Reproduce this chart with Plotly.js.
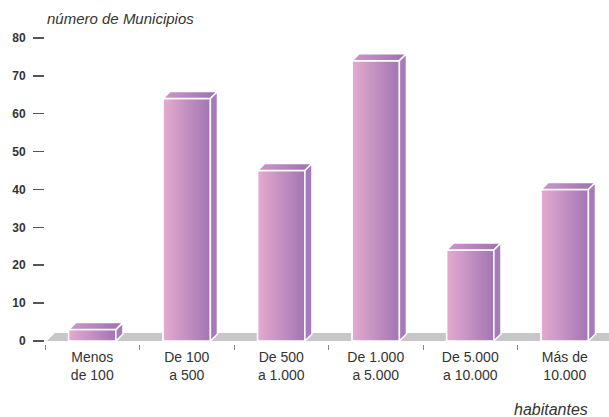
<!DOCTYPE html>
<html>
<head>
<meta charset="utf-8">
<script src="https://cdn.plot.ly/plotly-3.0.1.min.js"></script>
<style>html,body{margin:0;padding:0;background:#fff;}#chart{width:609px;height:417px;}</style>
</head>
<body>
<div id="chart"></div>
<script>
const categories = ['Menos<br>de 100', 'De 100<br>a 500', 'De 500<br>a 1.000', 'De 1.000<br>a 5.000', 'De 5.000<br>a 10.000', 'Más de<br>10.000'];
const municipios = [3, 64, 45, 74, 24, 40];
const yTicks = [0, 10, 20, 30, 40, 50, 60, 70, 80];
const yTitle = 'número de Municipios';
const xTitle = 'habitantes';

const positions = categories.map((c, i) => i);
const halfW = 0.25, dx = 0.075, dy = 1.85;
const edge = {color: '#ffffff', width: 1.5};

const traces = [{
  type: 'bar', x: positions, y: municipios, width: 0.5,
  marker: {color: '#c393c5', line: edge},
  hovertemplate: '%{y}<extra></extra>', showlegend: false
}];

municipios.forEach((v, i) => {
  const l = i - halfW, r = i + halfW;
  traces.push({
    type: 'scatter', mode: 'lines', fill: 'toself', hoverinfo: 'skip', showlegend: false,
    x: [l, l, r, r, l], y: [0, v, v, 0, 0], line: edge,
    fillgradient: {type: 'horizontal', start: l, stop: r, colorscale: [[0, '#e3abcf'], [1, '#a275b3']]}
  });
  traces.push({
    type: 'scatter', mode: 'lines', fill: 'toself', hoverinfo: 'skip', showlegend: false,
    x: [l, l + dx, r + dx, r, l], y: [v, v + dy, v + dy, v, v], line: edge,
    fillgradient: {type: 'horizontal', start: l, stop: r + dx, colorscale: [[0, '#cb97cb'], [1, '#9f70af']]}
  });
  traces.push({
    type: 'scatter', mode: 'lines', fill: 'toself', hoverinfo: 'skip', showlegend: false,
    x: [r, r + dx, r + dx, r, r], y: [0, dy, v + dy, v, 0], line: edge,
    fillcolor: '#a87ab8'
  });
});

const layout = {
  width: 609, height: 417,
  margin: {l: 45, r: 0, t: 30, b: 73},
  paper_bgcolor: '#ffffff', plot_bgcolor: '#ffffff',
  showlegend: false,
  xaxis: {
    range: [-0.5, 5.468], showgrid: false, zeroline: false, showline: false,
    tickmode: 'array', tickvals: positions, ticktext: categories, ticks: '',
    tickfont: {family: 'Liberation Sans, Arial, sans-serif', size: 14, color: '#333'},
    ticklabelstandoff: 3,
    minor: {tickmode: 'array', tickvals: [-0.5, 0.5, 1.5, 2.5, 3.5, 4.5], ticks: 'outside', ticklen: 5, tickcolor: '#888', tickwidth: 1, showgrid: false},
    fixedrange: true
  },
  yaxis: {
    range: [-0.8, 82.1], showgrid: false, zeroline: false, showline: false,
    tickmode: 'array', tickvals: yTicks, ticks: 'outside', ticklen: 11, tickwidth: 1.5, tickcolor: '#555',
    tickfont: {family: 'Liberation Sans, Arial, sans-serif', size: 12, color: '#333', weight: 'bold'},
    ticklabelstandoff: 5,
    fixedrange: true
  },
  shapes: [{
    type: 'path', xref: 'x', yref: 'y', layer: 'below',
    path: 'M -0.48,0 L -0.395,2.1 L 6,2.1 L 6,0 Z',
    fillcolor: '#c7c7c9', line: {width: 0}
  }],
  annotations: [
    {text: yTitle, xref: 'paper', yref: 'paper', x: 0, y: 1.038, xanchor: 'left', yanchor: 'middle', showarrow: false,
     font: {family: 'Liberation Sans, Arial, sans-serif', size: 15, color: '#333', style: 'italic'}},
    {text: xTitle, xref: 'paper', yref: 'paper', x: 0.966, y: -0.21, xanchor: 'right', yanchor: 'middle', showarrow: false,
     font: {family: 'Liberation Sans, Arial, sans-serif', size: 16, color: '#333', style: 'italic'}}
  ]
};

Plotly.newPlot('chart', traces, layout, {displayModeBar: false, staticPlot: true});
</script>
</body>
</html>
